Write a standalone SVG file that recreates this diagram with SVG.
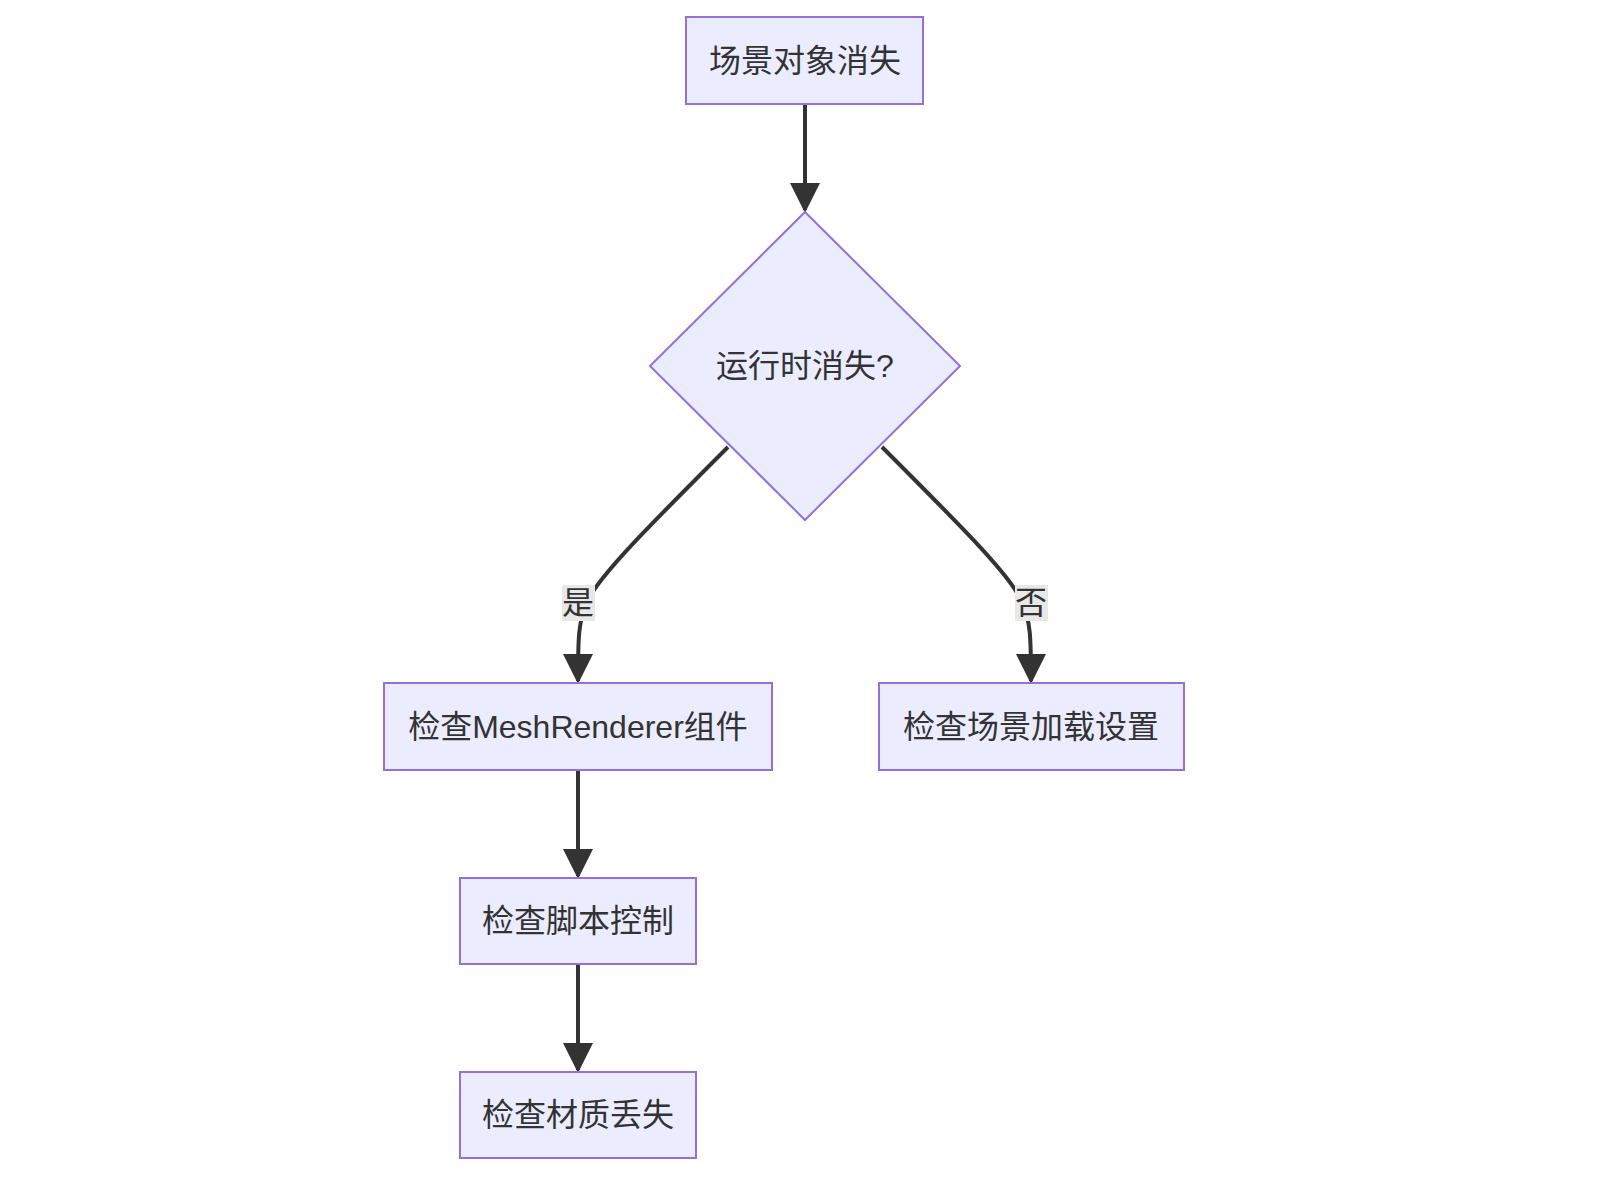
<svg xmlns="http://www.w3.org/2000/svg" width="1600" height="1200" viewBox="0 0 1600 1200">
<style>
.n{fill:#ECECFF;stroke:#9370DB;stroke-width:2}
.t{font-family:"Liberation Sans","Noto Sans CJK SC",sans-serif;font-size:32px;fill:#333;text-anchor:middle;dominant-baseline:central}
.e{fill:none;stroke:#333;stroke-width:4}
.lb{fill:#e8e8e8}
</style>
<defs><marker id="a" markerWidth="8" markerHeight="8" refX="6" refY="4" orient="auto" markerUnits="userSpaceOnUse" viewBox="0 0 8 8"><path d="M0,0L8,4L0,8z" fill="#333"/></marker>
<marker id="ah" viewBox="0 0 10 10" refX="9" refY="5" markerWidth="30" markerHeight="30" markerUnits="userSpaceOnUse" orient="auto"><path d="M0,0L10,5L0,10z" fill="#333"/></marker></defs>
<rect width="1600" height="1200" fill="#fff"/>
<g id="edges">
<path class="e" d="M805,104L805,210" marker-end="url(#ah)"/>
<path class="e" d="M728,447C650,525 600,575 588,600C578,620 578,640 578,681" marker-end="url(#ah)"/>
<path class="e" d="M882,447C960,525 1010,575 1021,600C1031,620 1031,640 1031,681" marker-end="url(#ah)"/>
<path class="e" d="M578,770L578,876" marker-end="url(#ah)"/>
<path class="e" d="M578,964L578,1070" marker-end="url(#ah)"/>
<rect class="lb" x="562" y="585" width="33" height="36"/><text class="t" x="578" y="603">是</text>
<rect class="lb" x="1015" y="585" width="33" height="36"/><text class="t" x="1031" y="603">否</text>
</g>
<g id="n1"><rect class="n" x="686" y="17" width="237" height="87"/><text class="t" x="805" y="61">场景对象消失</text></g>
<g id="n2"><path class="n" d="M805,212L960,366L805,520L650,366Z"/><text class="t" x="805" y="366">运行时消失?</text></g>
<g id="n3"><rect class="n" x="384" y="683" width="388" height="87"/><text class="t" x="578" y="727">检查MeshRenderer组件</text></g>
<g id="n4"><rect class="n" x="879" y="683" width="305" height="87"/><text class="t" x="1031" y="727">检查场景加载设置</text></g>
<g id="n5"><rect class="n" x="460" y="878" width="236" height="86"/><text class="t" x="578" y="921">检查脚本控制</text></g>
<g id="n6"><rect class="n" x="460" y="1072" width="236" height="86"/><text class="t" x="578" y="1115">检查材质丢失</text></g>
</svg>
